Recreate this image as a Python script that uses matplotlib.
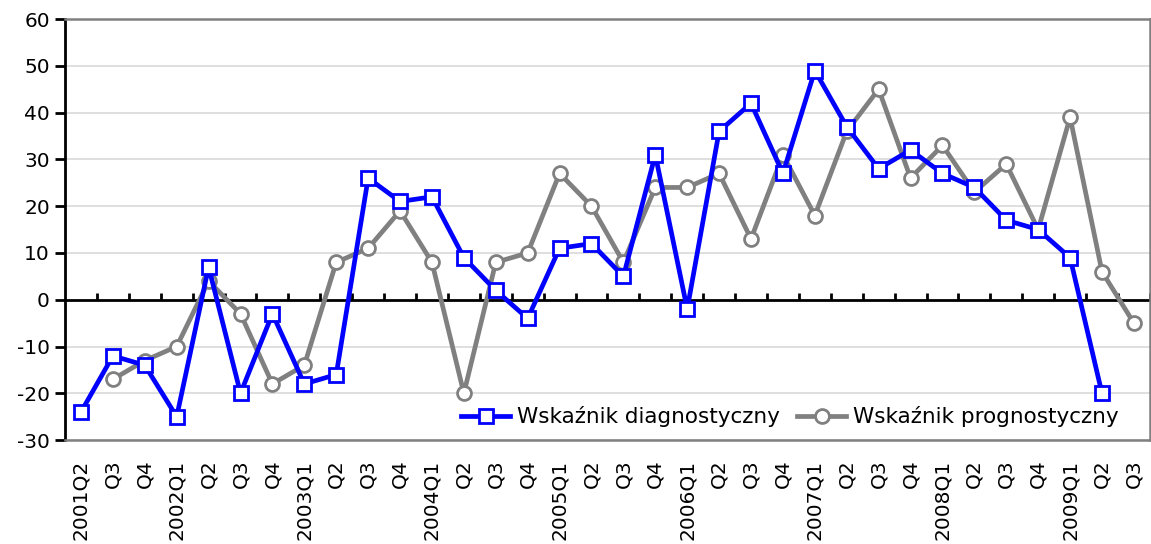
import matplotlib
matplotlib.use("Agg")
import matplotlib.pyplot as plt
import numpy as np

categories = ["2001Q2", "Q3", "Q4", "2002Q1", "Q2", "Q3", "Q4", "2003Q1", "Q2", "Q3", "Q4",
              "2004Q1", "Q2", "Q3", "Q4", "2005Q1", "Q2", "Q3", "Q4", "2006Q1", "Q2", "Q3", "Q4",
              "2007Q1", "Q2", "Q3", "Q4", "2008Q1", "Q2", "Q3", "Q4", "2009Q1", "Q2", "Q3"]

diagnostyczny = [-24, -12, -14, -25, 7, -20, -3, -18, -16, 26, 21,
                 22, 9, 2, -4, 11, 12, 5, 31, -2, 36, 42, 27,
                 49, 37, 28, 32, 27, 24, 17, 15, 9, -20, np.nan]

prognostyczny = [np.nan, -17, -13, -10, 4, -3, -18, -14, 8, 11, 19,
                 8, -20, 8, 10, 27, 20, 8, 24, 24, 27, 13, 31,
                 18, 36, 45, 26, 33, 23, 29, 15, 39, 6, -5]

plt.rcParams['font.family'] = ['DejaVu Sans']
plt.rcParams['axes.unicode_minus'] = False

fig = plt.figure(figsize=(11.51, 5.44), dpi=100)
ax = fig.add_axes([0.0565, 0.191, 0.9425, 0.774])

x = np.arange(len(categories))
n = len(categories)

for y in range(-30, 61, 10):
    if y != 0:
        ax.axhline(y, color="#d9d9d9", lw=1.2, zorder=0)
ax.axhline(0, color="black", lw=2, zorder=1)
ax.vlines(np.arange(0.5, n - 0.5 + 1e-9, 1.0), 0, 1.5, color="black", lw=2, zorder=1)

ax.plot(x, diagnostyczny, color="#0000ff", lw=3.4, marker="s", markersize=10,
        markerfacecolor="white", markeredgecolor="#0000ff", markeredgewidth=2,
        label="Wskaźnik diagnostyczny", zorder=3)
ax.plot(x, prognostyczny, color="#808080", lw=3.4, marker="o", markersize=10,
        markerfacecolor="white", markeredgecolor="#808080", markeredgewidth=2,
        label="Wskaźnik prognostyczny", zorder=2)

ax.set_xlim(-0.5, n - 0.5)
ax.set_ylim(-30, 60)
ax.set_yticks(range(-30, 61, 10))
ax.set_xticks(x)
ax.set_xticklabels(categories, rotation=90, fontsize=14.5)
ax.tick_params(axis="x", length=0, pad=14)
ax.tick_params(axis="y", direction="out", length=7, width=2, labelsize=14.5, pad=4)

ax.spines["left"].set_color("black")
ax.spines["left"].set_linewidth(2)
for s in ["top", "right", "bottom"]:
    ax.spines[s].set_color("#808080")
    ax.spines[s].set_linewidth(1.8)

ax.legend(loc="lower right", ncol=2, frameon=False, fontsize=15.5,
          handlelength=2.3, columnspacing=0.8, handletextpad=0.3,
          borderaxespad=0.2, bbox_to_anchor=(0.983, 0.0))

fig.savefig("out.png", dpi=100)
